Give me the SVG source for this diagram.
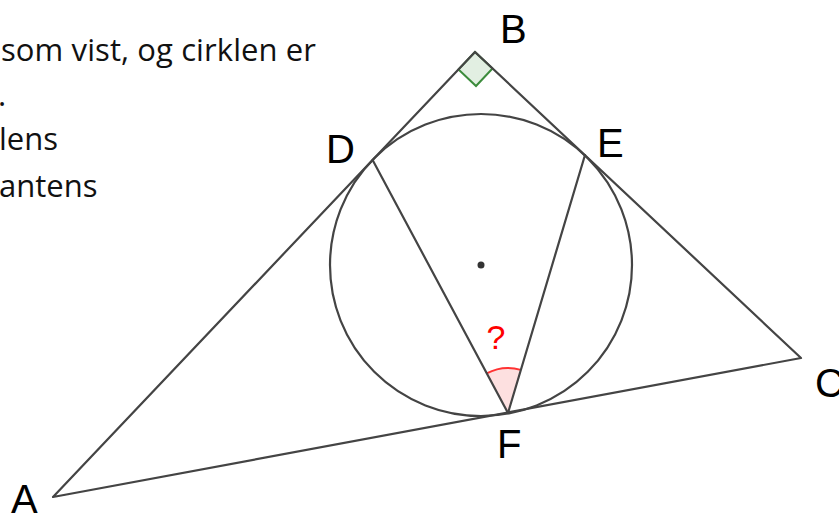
<svg xmlns="http://www.w3.org/2000/svg" width="839" height="514" viewBox="0 0 839 514">
<style>
.ln{stroke:#444;stroke-width:2.2;fill:none;stroke-linecap:round}
.lbl{font-family:"Liberation Sans",Arial,sans-serif;font-size:40px;fill:#000}
.txt{font-family:"Open Sans","Liberation Sans",sans-serif;font-size:31px;fill:#111}
</style>
<rect width="839" height="514" fill="#fff"/>
<g id="text">
<text class="txt" x="1" y="61" textLength="315">som vist, og cirklen er</text>
<text class="txt" x="-2" y="106">.</text>
<text class="txt" x="-1" y="150">lens</text>
<text class="txt" x="-1" y="197">antens</text>
</g>
<g id="angle-B">
<polygon points="475,52 458.5,69.4 476,86 492.5,68.5" fill="#e2efe2" stroke="#3c8c3c" stroke-width="2"/>
</g>
<g id="angle-F">
<path d="M508,413 L486.7,373.4 A45,45 0 0 1 520.9,369.9 Z" fill="#fde0e0" stroke="none"/>
<path d="M486.7,373.4 A45,45 0 0 1 520.9,369.9" fill="none" stroke="#ff3333" stroke-width="2"/>
<text x="496" y="349" text-anchor="middle" font-family="Liberation Sans,Arial,sans-serif" font-size="34" fill="#ff0000">?</text>
</g>
<g id="connectors">
<polygon class="ln" points="53,497 475,52 801,358" stroke-linejoin="round"/>
<circle class="ln" cx="481" cy="265" r="151"/>
<line class="ln" x1="372.6" y1="160" x2="508" y2="413"/>
<line class="ln" x1="585" y1="155" x2="508" y2="413"/>
</g>
<g id="center"><circle cx="481" cy="265" r="3.5" fill="#333"/></g>
<g id="A"><text class="lbl" x="11" y="513">A</text></g>
<g id="B"><text class="lbl" x="500" y="43">B</text></g>
<g id="C"><text class="lbl" x="815" y="397">C</text></g>
<g id="D"><text class="lbl" x="326" y="163">D</text></g>
<g id="E"><text class="lbl" x="597" y="157">E</text></g>
<g id="F"><text class="lbl" x="497" y="458">F</text></g>
</svg>
